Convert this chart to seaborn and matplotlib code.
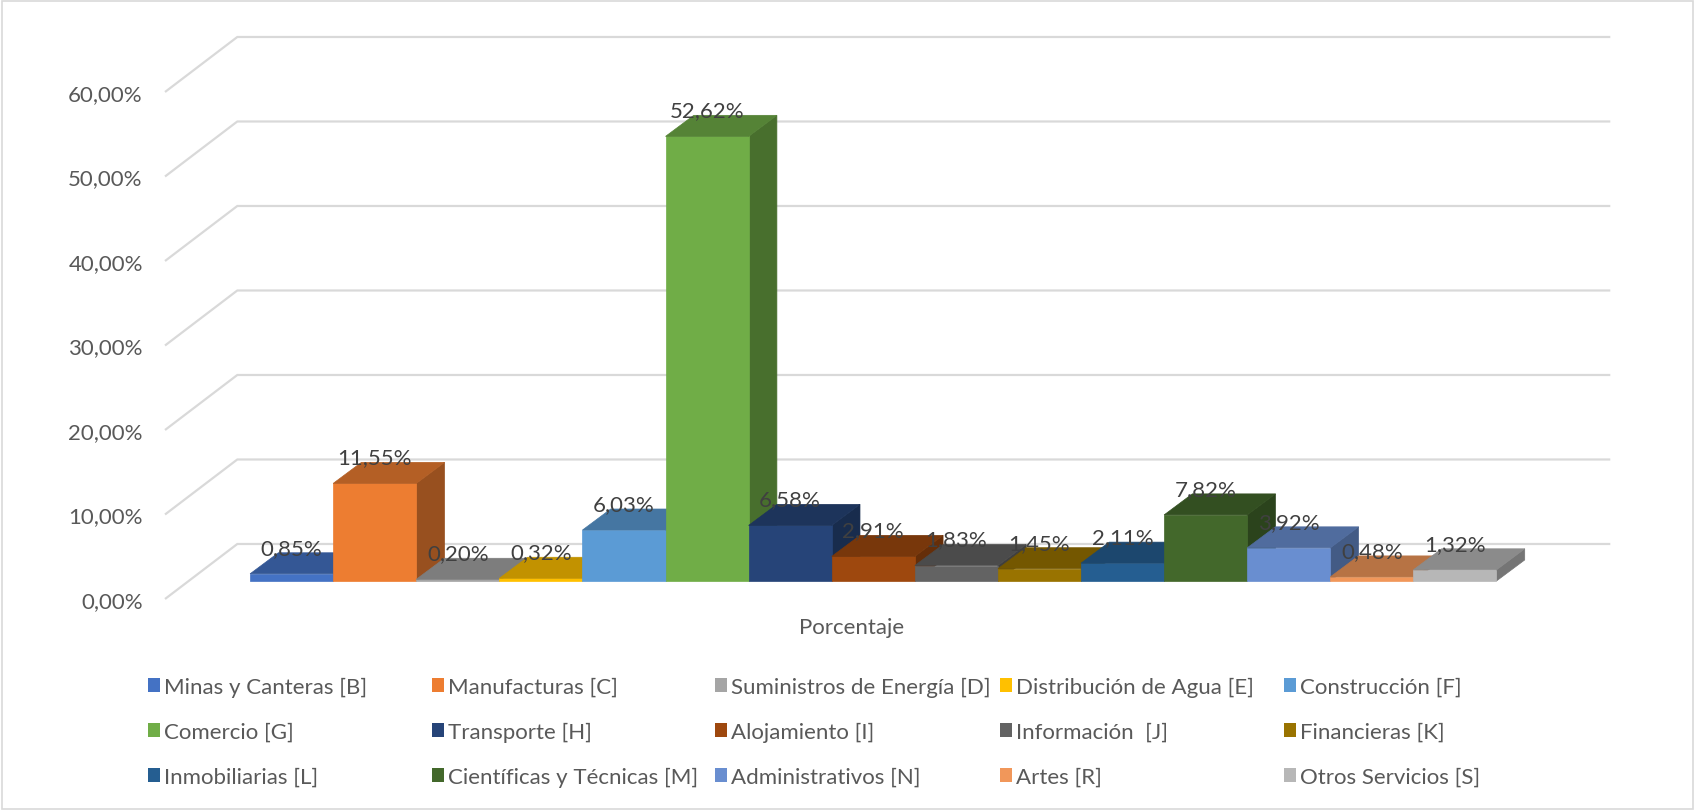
import numpy as np
import matplotlib
matplotlib.use("Agg")
import matplotlib.pyplot as plt
import seaborn as sns
from matplotlib.colors import to_rgb
from matplotlib.patches import Polygon, Patch, Rectangle

sectores = ["Minas y Canteras [B]", "Manufacturas [C]", "Suministros de Energía [D]",
            "Distribución de Agua [E]", "Construcción [F]", "Comercio [G]",
            "Transporte [H]", "Alojamiento [I]", "Información  [J]", "Financieras [K]",
            "Inmobiliarias [L]", "Científicas y Técnicas [M]", "Administrativos [N]",
            "Artes [R]", "Otros Servicios [S]"]
porcentajes = [0.85, 11.55, 0.20, 0.32, 6.03, 52.62, 6.58, 2.91,
               1.83, 1.45, 2.11, 7.82, 3.92, 0.48, 1.32]
colores = ["#4472C4", "#ED7D31", "#A5A5A5", "#FFC000", "#5B9BD5",
           "#70AD47", "#264478", "#9E480E", "#636363", "#997300",
           "#255E91", "#43682B", "#698ED0", "#F1975A", "#B7B7B7"]
y_ticks = [0, 10, 20, 30, 40, 50, 60]

# profundidad del efecto 3D (unidades de datos)
FRONT_DX, FRONT_DY = 0.29, 2.13
BAR_DX, BAR_DY = 0.34, 2.49
WALL_DX, WALL_DY = 0.87, 6.51

FONT = ["Lato", "DejaVu Sans"]
GRIS = "#d9d9d9"


def fmt(v):
    return f"{v:.2f}".replace(".", ",") + "%"


def oscuro(c, f):
    return tuple(np.array(to_rgb(c)) * f)


sns.set_style("white")
plt.rcParams["font.family"] = FONT

fig = plt.figure(figsize=(16.95, 8.12), dpi=100)
ax = fig.add_axes([165 / 1695, 212 / 812, 1373 / 1695, 507 / 812])

sns.barplot(x=sectores, y=porcentajes, hue=sectores, palette=colores,
            width=1, saturation=1, legend=False, ax=ax, linewidth=0)

xmin, xmax = -1.234, 15.29
ax.set_xlim(xmin, xmax)
ax.set_ylim(0, 60)

# rejilla en perspectiva
for v in y_ticks:
    ax.plot([xmin, xmin + WALL_DX, xmax + WALL_DX], [v, v + WALL_DY, v + WALL_DY],
            color=GRIS, lw=1.6, clip_on=False, zorder=1, solid_capstyle="butt")

# barras con cara superior y lateral
bars = sorted(ax.patches, key=lambda p: p.get_x())
for i, (p, c) in enumerate(zip(bars, colores)):
    w, h = p.get_width(), p.get_height()
    x0 = p.get_x() + FRONT_DX
    y0 = FRONT_DY
    p.set_x(x0)
    p.set_y(y0)
    p.set_clip_on(False)
    p.set_edgecolor(c)
    p.set_linewidth(0.5)
    p.set_zorder(4 + 3 * i)
    side = Polygon([(x0 + w, y0), (x0 + w + BAR_DX, y0 + BAR_DY),
                    (x0 + w + BAR_DX, y0 + h + BAR_DY), (x0 + w, y0 + h)],
                   closed=True, fc=oscuro(c, 0.64), ec=oscuro(c, 0.64), lw=0.5,
                   clip_on=False, zorder=3 + 3 * i)
    top = Polygon([(x0, y0 + h), (x0 + w, y0 + h),
                   (x0 + w + BAR_DX, y0 + h + BAR_DY), (x0 + BAR_DX, y0 + h + BAR_DY)],
                  closed=True, fc=oscuro(c, 0.76), ec=oscuro(c, 0.76), lw=0.5,
                  clip_on=False, zorder=5 + 3 * i)
    ax.add_patch(side)
    ax.add_patch(top)
    ax.text(x0 + w / 2, y0 + h + BAR_DY + 0.6, fmt(h), ha="center", va="center",
            fontsize=16, color="#404040", zorder=200)

# ejes
ax.set_yticks(y_ticks)
ax.set_yticklabels([fmt(v) for v in y_ticks])
ax.set_xticks([])
ax.tick_params(axis="y", length=0, pad=16, labelsize=16, labelcolor="#595959")
ax.set_xlabel("Porcentaje", fontsize=16, color="#595959", labelpad=13)
ax.set_ylabel("")
sns.despine(ax=ax, left=True, bottom=True)
ax.patch.set_alpha(0)

# leyenda en 5 columnas de ancho fijo
col_x = [148, 432, 715, 1000, 1284]
for j, cx in enumerate(col_x):
    idx = [j, j + 5, j + 10]
    handles = [Patch(facecolor=colores[k], edgecolor="none") for k in idx]
    fig.legend(handles, [sectores[k] for k in idx], loc="center left",
               bbox_to_anchor=(cx / 1695, 1 - 733 / 812), frameon=False,
               fontsize=16, labelcolor="#595959", handlelength=0.55,
               handleheight=0.6, handletextpad=0.15, labelspacing=1.12,
               borderpad=0, borderaxespad=0)

fig.patches.append(Rectangle((0.001, 0.002), 0.998, 0.996, transform=fig.transFigure,
                             fill=False, edgecolor=GRIS, lw=1.2))

fig.savefig("out.png", dpi=100)
